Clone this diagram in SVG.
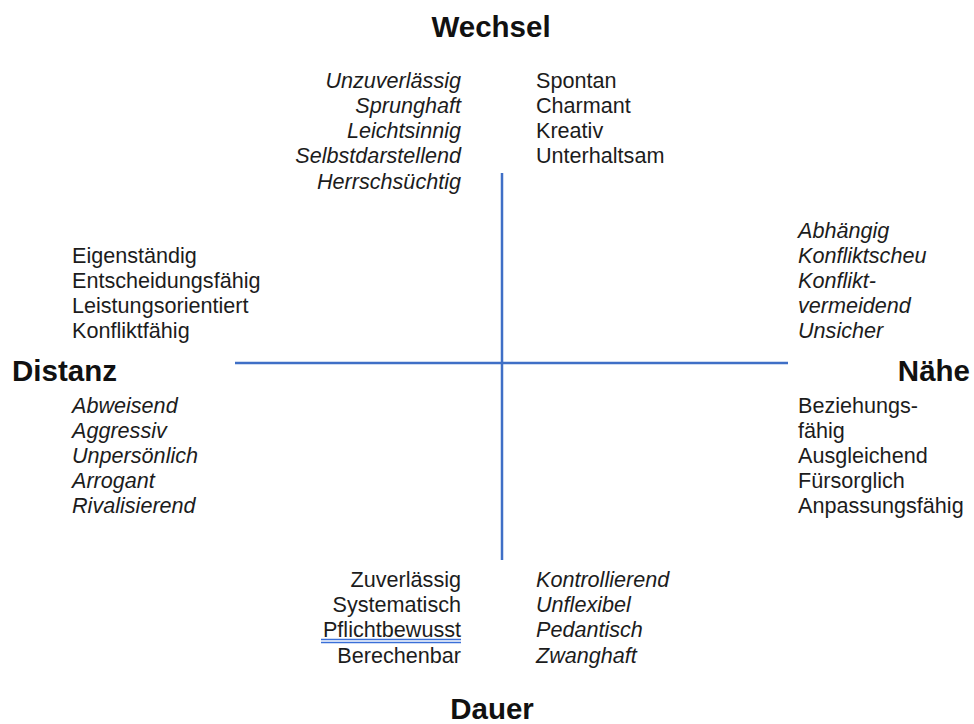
<svg xmlns="http://www.w3.org/2000/svg" width="974" height="724" viewBox="0 0 974 724">
<style>
.t{font-family:"Liberation Sans",Arial,sans-serif;font-size:21.6px;fill:#1c1c1c}
.i{font-style:italic}
.r{text-anchor:end}
.h{font-family:"Liberation Sans",Arial,sans-serif;font-size:29.5px;font-weight:bold;fill:#111}
.ax{stroke:#3f6fc6;stroke-width:2.5;fill:none}
.ul{stroke:#3a6fd8;stroke-width:1.3}
</style>
<rect width="974" height="724" fill="#ffffff"/>
<g id="connectors">
<line class="ax" x1="235" y1="363" x2="788" y2="363"/>
<line class="ax" x1="502" y1="173" x2="502" y2="560"/>
</g>
<g id="wechsel">
<text class="h" x="491" y="37" text-anchor="middle">Wechsel</text>
</g>
<g id="distanz">
<text class="h" x="12" y="381">Distanz</text>
</g>
<g id="naehe">
<text class="h" x="970" y="381" text-anchor="end">Nähe</text>
</g>
<g id="dauer">
<text class="h" x="492" y="719" text-anchor="middle">Dauer</text>
</g>
<g id="top-left">
<text class="t i r" x="461" y="88">Unzuverlässig</text>
<text class="t i r" x="461" y="113">Sprunghaft</text>
<text class="t i r" x="461" y="138">Leichtsinnig</text>
<text class="t i r" x="461" y="163">Selbstdarstellend</text>
<text class="t i r" x="461" y="189">Herrschsüchtig</text>
</g>
<g id="top-right">
<text class="t" x="536" y="88">Spontan</text>
<text class="t" x="536" y="113">Charmant</text>
<text class="t" x="536" y="138">Kreativ</text>
<text class="t" x="536" y="163">Unterhaltsam</text>
</g>
<g id="left-upper">
<text class="t" x="72" y="263">Eigenständig</text>
<text class="t" x="72" y="288">Entscheidungsfähig</text>
<text class="t" x="72" y="313">Leistungsorientiert</text>
<text class="t" x="72" y="338">Konfliktfähig</text>
</g>
<g id="left-lower">
<text class="t i" x="72" y="413">Abweisend</text>
<text class="t i" x="72" y="438">Aggressiv</text>
<text class="t i" x="72" y="463">Unpersönlich</text>
<text class="t i" x="72" y="488">Arrogant</text>
<text class="t i" x="72" y="513">Rivalisierend</text>
</g>
<g id="right-upper">
<text class="t i" x="798" y="238">Abhängig</text>
<text class="t i" x="798" y="263">Konfliktscheu</text>
<text class="t i" x="798" y="288">Konflikt-</text>
<text class="t i" x="798" y="313">vermeidend</text>
<text class="t i" x="798" y="338">Unsicher</text>
</g>
<g id="right-lower">
<text class="t" x="798" y="413">Beziehungs-</text>
<text class="t" x="798" y="438">fähig</text>
<text class="t" x="798" y="463">Ausgleichend</text>
<text class="t" x="798" y="488">Fürsorglich</text>
<text class="t" x="798" y="513">Anpassungsfähig</text>
</g>
<g id="bottom-left">
<text class="t r" x="461" y="587">Zuverlässig</text>
<text class="t r" x="461" y="612">Systematisch</text>
<text class="t r" x="461" y="637">Pflichtbewusst</text>
<text class="t r" x="461" y="663">Berechenbar</text>
<line class="ul" x1="321" y1="639.5" x2="461" y2="639.5"/>
<line class="ul" x1="321" y1="642.5" x2="461" y2="642.5"/>
</g>
<g id="bottom-right">
<text class="t i" x="536" y="587">Kontrollierend</text>
<text class="t i" x="536" y="612">Unflexibel</text>
<text class="t i" x="536" y="637">Pedantisch</text>
<text class="t i" x="536" y="663">Zwanghaft</text>
</g>
</svg>
